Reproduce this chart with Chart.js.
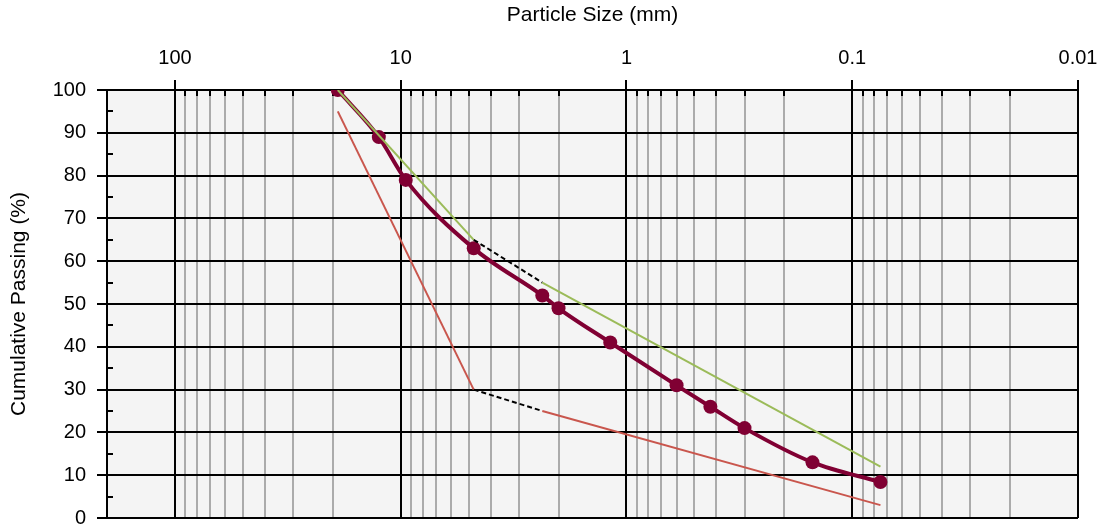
<!DOCTYPE html>
<html>
<head>
<meta charset="utf-8">
<script src="https://cdn.jsdelivr.net/npm/chart.js@4/dist/chart.umd.min.js"></script>
<style>
html,body{margin:0;padding:0;background:#fff;}
#wrap{width:1101px;height:529px;}
</style>
</head>
<body>
<div id="wrap"><canvas id="c" width="1101" height="529"></canvas></div>
<script>
// ---- data ----
const sieveSizes = [19, 12.5, 9.5, 4.75, 2.36, 2.0, 1.18, 0.6, 0.425, 0.3, 0.15, 0.075];
const passing    = [100, 89, 79, 63, 52, 49, 41, 31, 26, 21, 13, 8.4];

const upperSizes = [19, 4.75, 2.36, 0.075];
const upperLimit = [100, 65, 55, 12];

const lowerSizes = [19, 4.75, 2.36, 0.075];
const lowerLimit = [95, 30, 25, 3];

const xMajorTicks  = [100, 10, 1, 0.1, 0.01];
const xMajorLabels = ['100', '10', '1', '0.1', '0.01'];
const xMinorFactors = [2, 3, 4, 5, 6, 7, 8, 9];
const yMajorTicks = [0, 10, 20, 30, 40, 50, 60, 70, 80, 90, 100];
const yMinorTicks = [5, 15, 25, 35, 45, 55, 65, 75, 85, 95];

// ---- derived tick lists ----
const xMinorTicks = [];
[10, 1, 0.1, 0.01].forEach(d => xMinorFactors.forEach(f => xMinorTicks.push(+(d * f).toPrecision(6))));
const xAllTicks = xMajorTicks.concat(xMinorTicks).sort((a, b) => a - b);
const yAllTicks = yMajorTicks.concat(yMinorTicks).sort((a, b) => a - b);

function majorIndex(v) {
  return xMajorTicks.findIndex(m => Math.abs(m - v) / m < 1e-6);
}
const pts = (xs, ys) => xs.map((x, i) => ({x: x, y: ys[i]}));

const FONT = 'Liberation Sans, Arial, sans-serif';
const MAROON = '#800033';

const plotBg = {
  id: 'plotBg',
  beforeDraw(chart) {
    const {ctx, chartArea: a} = chart;
    ctx.save();
    ctx.fillStyle = '#f4f4f4';
    ctx.fillRect(a.left, a.top, a.right - a.left, a.bottom - a.top);
    ctx.restore();
  }
};

const innerTicks = {
  id: 'innerTicks',
  beforeDatasetsDraw(chart) {
    const {ctx, chartArea: a, scales: {x, y}} = chart;
    ctx.save();
    ctx.strokeStyle = '#000';
    ctx.lineWidth = 2;
    ctx.beginPath();
    xMinorTicks.forEach(v => {
      const px = Math.round(x.getPixelForValue(v));
      ctx.moveTo(px, a.top);
      ctx.lineTo(px, a.top + 6);
    });
    yMinorTicks.forEach(v => {
      const py = Math.round(y.getPixelForValue(v));
      ctx.moveTo(a.left, py);
      ctx.lineTo(a.left + 6, py);
    });
    ctx.stroke();
    ctx.restore();
  }
};

const segDash = ctx => ctx.p0DataIndex === 1 ? [5, 3] : undefined;
const segColor = ctx => ctx.p0DataIndex === 1 ? '#000' : undefined;

new Chart(document.getElementById('c'), {
  type: 'scatter',
  data: {
    datasets: [
      {
        label: 'Upper limit',
        data: pts(upperSizes, upperLimit),
        showLine: true,
        borderColor: '#9bbb59',
        borderWidth: 2,
        pointRadius: 0,
        segment: {borderColor: segColor, borderDash: segDash},
        order: 0
      },
      {
        label: 'Lower limit',
        data: pts(lowerSizes, lowerLimit),
        showLine: true,
        borderColor: '#c9564d',
        borderWidth: 2,
        pointRadius: 0,
        segment: {borderColor: segColor, borderDash: segDash},
        order: 0
      },
      {
        label: 'Grading',
        data: pts(sieveSizes, passing),
        showLine: true,
        borderColor: MAROON,
        backgroundColor: MAROON,
        borderWidth: 4,
        pointRadius: 7,
        pointBorderWidth: 0,
        pointBackgroundColor: MAROON,
        cubicInterpolationMode: 'monotone',
        order: 2
      }
    ]
  },
  options: {
    responsive: false,
    devicePixelRatio: 1,
    animation: false,
    events: [],
    layout: {padding: {left: 0, top: 0, right: 23, bottom: 11}},
    plugins: {legend: {display: false}, tooltip: {enabled: false}},
    scales: {
      x: {
        type: 'logarithmic',
        position: 'top',
        reverse: true,
        min: 0.01,
        max: 200,
        afterBuildTicks: s => { s.ticks = xAllTicks.map(v => ({value: v})); },
        afterFit: s => { s.height = 90; s.paddingLeft = 0; s.paddingRight = 0; },
        ticks: {
          autoSkip: false,
          maxRotation: 0,
          minRotation: 0,
          padding: 10,
          color: '#000',
          font: {family: FONT, size: 20},
          callback: v => { const i = majorIndex(v); return i >= 0 ? xMajorLabels[i] : ''; }
        },
        grid: {
          color: ctx => majorIndex(ctx.tick.value) >= 0 ? '#000' : '#ababab',
          lineWidth: 2,
          tickLength: 10,
          tickWidth: 2,
          tickColor: ctx => majorIndex(ctx.tick.value) >= 0 ? '#000' : 'rgba(0,0,0,0)'
        },
        border: {display: true, color: '#000', width: 2},
        title: {
          display: true,
          text: 'Particle Size (mm)',
          color: '#000',
          font: {family: FONT, size: 21},
          padding: {top: 3, bottom: 0}
        }
      },
      y: {
        type: 'linear',
        position: 'left',
        min: 0,
        max: 100,
        afterBuildTicks: s => { s.ticks = yAllTicks.map(v => ({value: v})); },
        afterFit: s => { s.width = 107; s.paddingTop = 0; s.paddingBottom = 0; },
        ticks: {
          autoSkip: false,
          padding: 11,
          color: '#000',
          font: {family: FONT, size: 20},
          callback: v => (v % 10 === 0 ? String(v) : '')
        },
        grid: {
          color: ctx => ctx.tick.value % 10 === 0 ? '#000' : 'rgba(0,0,0,0)',
          lineWidth: 2,
          tickLength: 10,
          tickWidth: 2,
          tickColor: ctx => ctx.tick.value % 10 === 0 ? '#000' : 'rgba(0,0,0,0)'
        },
        border: {display: true, color: '#000', width: 2},
        title: {
          display: true,
          text: 'Cumulative Passing (%)',
          color: '#000',
          font: {family: FONT, size: 21},
          padding: {top: 7, bottom: 0}
        }
      }
    }
  },
  plugins: [plotBg, innerTicks]
});
</script>
</body>
</html>
